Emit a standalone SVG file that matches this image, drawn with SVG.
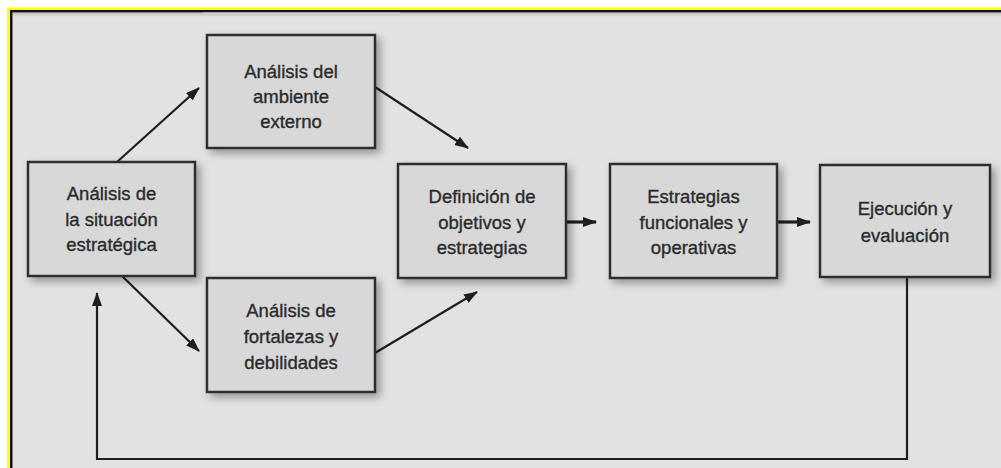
<svg xmlns="http://www.w3.org/2000/svg" width="1001" height="468" viewBox="0 0 1001 468">
<defs>
<style>
.box rect{fill:#d8d8d8;stroke:#2e2e2e;stroke-width:2.5;filter:url(#sh)}
.box text{font-family:"Liberation Sans",Arial,sans-serif;font-size:18.5px;fill:#2b2b2b;stroke:#2b2b2b;stroke-width:0.35;text-anchor:middle}
.conn{fill:none;stroke:#1e1e1e;stroke-width:2.2}
.thick{stroke-width:3.2}
</style>
<filter id="sh" x="-20%" y="-20%" width="150%" height="150%">
<feDropShadow dx="4" dy="4" stdDeviation="4" flood-color="#000" flood-opacity="0.35"/>
</filter>
<linearGradient id="topsh" x1="0" y1="0" x2="0" y2="1">
<stop offset="0" stop-color="#9a9a9a" stop-opacity="0.6"/>
<stop offset="1" stop-color="#e2e2e2" stop-opacity="0"/>
</linearGradient>
<marker id="ah" markerUnits="userSpaceOnUse" markerWidth="14" markerHeight="10" refX="13" refY="5" orient="auto">
<path d="M0,0 L14,5 L0,10 z" fill="#1e1e1e"/>
</marker>
</defs>
<rect x="0" y="0" width="1001" height="468" fill="#ffffff"/>
<rect x="7" y="7.5" width="1000" height="470" fill="#ffff00"/>
<rect x="10" y="10" width="1000" height="470" fill="#111111"/>
<rect x="12.5" y="12.5" width="1000" height="470" fill="#e2e2e2"/>
<rect x="12.5" y="12.5" width="1000" height="6" fill="url(#topsh)"/>
<rect x="203" y="12.5" width="197" height="3" fill="#cdcdcd"/>

<g id="connectors">
<line class="conn" x1="117" y1="162" x2="199" y2="88" marker-end="url(#ah)"/>
<line class="conn" x1="375" y1="87" x2="468" y2="148" marker-end="url(#ah)"/>
<line class="conn" x1="122" y1="276" x2="199" y2="351" marker-end="url(#ah)"/>
<line class="conn" x1="375" y1="353" x2="477" y2="292" marker-end="url(#ah)"/>
<line class="conn thick" x1="567" y1="222" x2="596" y2="222" marker-end="url(#ah)"/>
<line class="conn thick" x1="778" y1="222" x2="810" y2="222" marker-end="url(#ah)"/>
<polyline class="conn" points="907,278 907,459 97,459 97,293" marker-end="url(#ah)"/>
</g>

<g id="n1" class="box">
<rect x="28" y="162" width="167" height="114"/>
<text x="111.5" y="200">Análisis de</text>
<text x="111.5" y="226">la situación</text>
<text x="111.5" y="251">estratégica</text>
</g>
<g id="n2" class="box">
<rect x="207" y="35" width="168" height="113"/>
<text x="291" y="78">Análisis del</text>
<text x="291" y="103">ambiente</text>
<text x="291" y="128">externo</text>
</g>
<g id="n3" class="box">
<rect x="207" y="278" width="168" height="114"/>
<text x="291" y="317">Análisis de</text>
<text x="291" y="343">fortalezas y</text>
<text x="291" y="369">debilidades</text>
</g>
<g id="n4" class="box">
<rect x="398" y="164" width="168" height="114"/>
<text x="482" y="203">Definición de</text>
<text x="482" y="229">objetivos y</text>
<text x="482" y="254">estrategias</text>
</g>
<g id="n5" class="box">
<rect x="610" y="164" width="167" height="114"/>
<text x="693.5" y="203">Estrategias</text>
<text x="693.5" y="229">funcionales y</text>
<text x="693.5" y="254">operativas</text>
</g>
<g id="n6" class="box">
<rect x="820" y="165" width="170" height="112"/>
<text x="905" y="215">Ejecución y</text>
<text x="905" y="242">evaluación</text>
</g>
</svg>
